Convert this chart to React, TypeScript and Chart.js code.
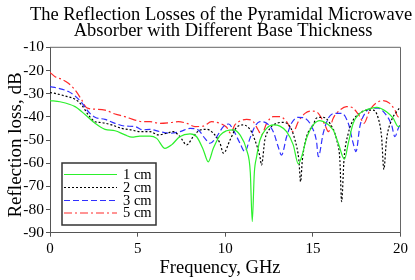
import React, { useEffect, useRef } from "react";
import { Chart, registerables } from "chart.js";

Chart.register(...registerables);

const titleLines = [
  "The Reflection Losses of the Pyramidal Microwave",
  "Absorber with Different Base Thickness",
];
const xTitle = "Frequency, GHz";
const yTitle = "Reflection loss, dB";
const seriesLabels = ["1 cm", "2 cm", "3 cm", "5 cm"];
const seriesColors = ["#2cf02c", "#000000", "#3030ff", "#ff2a2a"];

const freq1 = [0, 0.57, 1.43, 2.0, 2.57, 3.14, 3.71, 4.28, 4.68, 5.13, 5.7, 6.09, 6.56, 6.94, 7.4, 7.99, 8.37, 8.75, 9.03, 9.32, 9.7, 10.08, 10.46, 10.84, 11.22, 11.43, 11.54, 11.66, 11.79, 11.98, 12.36, 12.74, 13.12, 13.5, 13.88, 14.17, 14.36, 14.64, 15.02, 15.4, 15.78, 16.16, 16.45, 16.8, 17.02, 17.3, 17.68, 18.16, 18.64, 19.2, 19.58, 19.87, 20];
const loss1 = [-33, -33.5, -35.6, -39, -42.8, -45.4, -46, -47.8, -48.8, -48.3, -48.3, -49.3, -53.6, -52.1, -48.6, -47.4, -48.6, -54.3, -59.4, -53.6, -48, -46, -45.6, -47.8, -54.3, -64, -85.2, -64, -57.2, -50, -45, -43.5, -44, -46.4, -52.1, -60.3, -57.2, -49.3, -43.5, -41.6, -42.8, -45.7, -51.4, -58.3, -51.4, -42.8, -38.5, -36.7, -35.9, -37.8, -40.6, -44.2, -44];

const freq2 = [0, 0.29, 0.86, 1.43, 1.81, 2.19, 2.57, 2.95, 3.52, 4.09, 4.66, 5.13, 5.7, 6.18, 6.65, 7.03, 7.42, 7.8, 8.17, 8.56, 8.94, 9.32, 9.7, 9.9, 10.27, 10.65, 11.03, 11.41, 11.69, 11.98, 12.07, 12.26, 12.55, 12.93, 13.31, 13.69, 13.98, 14.2, 14.3, 14.4, 14.64, 15.02, 15.21, 15.59, 15.97, 16.36, 16.54, 16.64, 16.78, 17.02, 17.3, 17.68, 18.06, 18.44, 18.73, 18.92, 19.05, 19.2, 19.49, 19.78, 20];
const loss2 = [-29.5, -29.9, -31, -32.4, -34.9, -39.2, -42.1, -42.5, -43.5, -45, -45.7, -46.4, -46.4, -47.8, -47.1, -46.4, -48.6, -52.1, -48.6, -45.7, -45.4, -47.1, -51.4, -55.7, -50, -44.5, -43.5, -45.4, -50, -57.2, -60.8, -50, -45, -42.8, -42.4, -44.2, -50, -58.6, -68, -58.6, -48.6, -43.5, -40.5, -40.2, -42.8, -50, -58.6, -76.6, -58, -47.1, -41.4, -38.5, -37.1, -37.1, -40.6, -48.6, -62.7, -50, -41.4, -37.8, -35.6];

const freq3 = [0, 0.48, 1.05, 1.43, 1.81, 2.19, 2.57, 3.14, 3.71, 4.28, 4.85, 5.3, 5.7, 6.27, 6.85, 7.42, 7.99, 8.46, 8.84, 9.13, 9.51, 9.89, 10.2, 10.46, 10.84, 11.12, 11.41, 11.69, 11.98, 12.36, 12.74, 13.02, 13.21, 13.5, 13.78, 14.17, 14.55, 14.93, 15.21, 15.31, 15.59, 15.88, 16.26, 16.64, 17.02, 17.3, 17.46, 17.68, 17.97, 18.35, 18.73, 19.11, 19.49, 19.68, 19.87, 20];
const loss3 = [-27, -27.7, -29.1, -31, -33.9, -37.8, -40.2, -41.1, -42.8, -44, -44.2, -45.6, -45.4, -46.4, -47.1, -46.4, -45, -45.7, -49.3, -51.4, -48.6, -44.2, -43.1, -45.7, -51.4, -55, -49.3, -44.2, -42.1, -42.8, -46.4, -52.9, -56.5, -48.6, -42.8, -40.2, -40.6, -44.2, -50.7, -57.2, -47.1, -40.6, -38.5, -38.5, -42.8, -51.4, -55, -44.2, -38.5, -36.3, -36.3, -38.5, -43.5, -48.6, -45, -43];

const freq5 = [0, 0.29, 0.67, 1.05, 1.43, 1.81, 2.09, 2.57, 3.14, 3.71, 4.28, 4.85, 5.3, 5.7, 6.27, 6.85, 7.32, 7.8, 8.27, 8.75, 9.22, 9.7, 10.08, 10.3, 10.55, 10.84, 11.22, 11.6, 11.88, 12.07, 12.36, 12.74, 13.12, 13.5, 13.88, 14.17, 14.55, 14.93, 15.31, 15.69, 15.88, 16.16, 16.54, 16.92, 17.3, 17.68, 17.91, 18.25, 18.64, 19.01, 19.39, 19.68, 19.87, 20];
const loss5 = [-20.8, -22.7, -23.8, -25.5, -28.4, -32.7, -36.1, -36.7, -37.1, -38.8, -39.9, -41.4, -42.1, -42.1, -42.8, -42.5, -42.1, -42.8, -44.2, -44, -42.1, -42.8, -44.5, -47, -43.5, -41.8, -41.1, -42.1, -45.7, -47.8, -42.8, -39.9, -39.9, -42.1, -46.4, -42.1, -38.5, -37.5, -38.5, -43.5, -46.4, -40.6, -37.1, -35.6, -36.3, -39.9, -42.8, -37.1, -33.9, -33, -34.2, -37.1, -40, -39];

const xMin = 0, xMax = 20, xStep = 5;
const yMin = -90, yMax = -10, yStep = 10;

const seriesFreq = [freq1, freq2, freq3, freq5];
const seriesLoss = [loss1, loss2, loss3, loss5];
const seriesDash = [[], [2, 2], [6, 3], [8, 3, 2, 3]];

const SERIF = '"Liberation Serif", "Times New Roman", serif';

const decorPlugin = {
  id: "decor",
  afterDraw(chart: any) {
    const { ctx, chartArea: a } = chart;
    ctx.save();
    // frame top / right
    ctx.strokeStyle = "#666";
    ctx.lineWidth = 1;
    ctx.beginPath();
    ctx.moveTo(a.left, a.top);
    ctx.lineTo(a.right, a.top);
    ctx.lineTo(a.right, a.bottom);
    ctx.stroke();

    // title
    ctx.fillStyle = "#000";
    ctx.textAlign = "center";
    ctx.textBaseline = "alphabetic";
    ctx.font = `18.5px ${SERIF}`;
    ctx.fillText(titleLines[0], 221, 20);
    ctx.fillText(titleLines[1], 223, 36);

    // axis titles
    ctx.font = `18.5px ${SERIF}`;
    ctx.fillText(xTitle, 220, 273);
    ctx.save();
    ctx.translate(20.5, 145);
    ctx.rotate(-Math.PI / 2);
    ctx.font = `19px ${SERIF}`;
    ctx.fillText(yTitle, 0, 0);
    ctx.restore();

    // legend
    const bx = 62, by = 163, bw = 94, bh = 62;
    ctx.fillStyle = "#fff";
    ctx.fillRect(bx, by, bw, bh);
    ctx.strokeStyle = "#333";
    ctx.lineWidth = 1.5;
    ctx.strokeRect(bx, by, bw, bh);
    const rows = [174, 187, 200, 212.5];
    chart.data.datasets.forEach((ds: any, i: number) => {
      const y = rows[i];
      ctx.strokeStyle = ds.borderColor;
      ctx.lineWidth = 1.2;
      ctx.setLineDash(ds.borderDash || []);
      ctx.beginPath();
      ctx.moveTo(64, y + 0.5);
      ctx.lineTo(117, y + 0.5);
      ctx.stroke();
      ctx.setLineDash([]);
      ctx.fillStyle = "#000";
      ctx.textAlign = "left";
      ctx.textBaseline = "middle";
      ctx.font = `14.5px ${SERIF}`;
      ctx.fillText(ds.label, 123, y + 1);
    });
    ctx.restore();
  },
};

export default function App() {
  const ref = useRef<HTMLCanvasElement>(null);
  useEffect(() => {
    document.body.style.margin = "0";
    const canvas = ref.current;
    if (!canvas) return;
    const datasets = seriesLabels.map((label, i) => ({
      label,
      data: seriesFreq[i].map((f, j) => ({ x: f, y: seriesLoss[i][j] })),
      borderColor: seriesColors[i],
      backgroundColor: seriesColors[i],
      borderWidth: 1.2,
      borderDash: seriesDash[i],
      pointRadius: 0,
      fill: false,
      cubicInterpolationMode: "monotone" as const,
    }));
    const chart = new Chart(canvas, {
      type: "line",
      data: { datasets },
      plugins: [decorPlugin],
      options: {
        responsive: false,
        animation: false,
        layout: { padding: { top: 47.3, right: 14.5, left: 0, bottom: 0 } },
        plugins: { legend: { display: false }, title: { display: false }, tooltip: { enabled: false } },
        scales: {
          x: {
            type: "linear",
            min: xMin,
            max: xMax,
            afterFit: (s: any) => { s.height = 47.3; },
            ticks: { stepSize: xStep, color: "#000", font: { family: SERIF, size: 15 }, padding: 3, maxRotation: 0 },
            grid: { display: true, drawOnChartArea: false, drawTicks: true, tickLength: 4, color: "#555" },
            border: { display: true, color: "#555", width: 1 },
          },
          y: {
            type: "linear",
            min: yMin,
            max: yMax,
            afterFit: (s: any) => { s.width = 50; },
            ticks: { stepSize: yStep, color: "#000", font: { family: SERIF, size: 15.5 }, padding: 2 },
            grid: { display: true, drawOnChartArea: false, drawTicks: true, tickLength: 4, color: "#555" },
            border: { display: true, color: "#555", width: 1 },
          },
        },
      },
    });
    return () => chart.destroy();
  }, []);
  return (
    <div style={{ width: 415, height: 280 }}>
      <canvas ref={ref} width={415} height={280} />
    </div>
  );
}
